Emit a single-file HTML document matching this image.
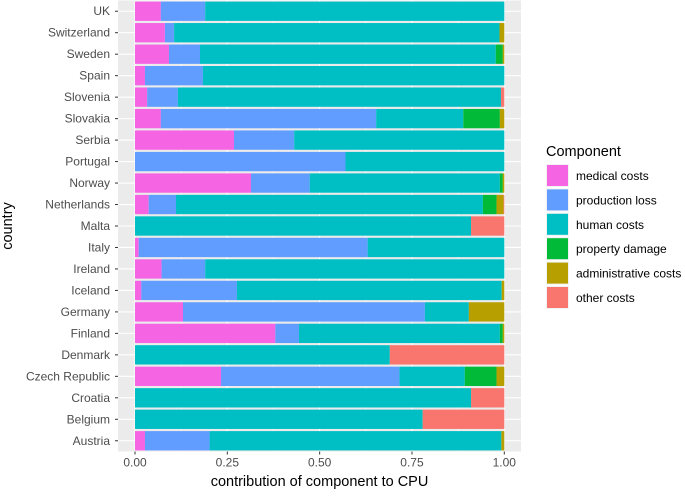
<!DOCTYPE html>
<html><head><meta charset="utf-8"><style>
body{margin:0;background:#fff;font-family:"Liberation Sans",sans-serif}
</style></head><body>
<svg id="c" width="685" height="491" xmlns="http://www.w3.org/2000/svg"></svg>
<script>
const countries=["UK","Switzerland","Sweden","Spain","Slovenia","Slovakia","Serbia","Portugal","Norway","Netherlands","Malta","Italy","Ireland","Iceland","Germany","Finland","Denmark","Czech Republic","Croatia","Belgium","Austria"];
const components=["medical costs","production loss","human costs","property damage","administrative costs","other costs"];
const colors=["#F564E3","#619CFF","#00BFC4","#00BA38","#B79F00","#F8766D"];
const medical=[0.070,0.081,0.092,0.027,0.033,0.070,0.268,0,0.314,0.037,0,0.010,0.072,0.017,0.130,0.380,0,0.233,0,0,0.027];
const production=[0.120,0.025,0.084,0.157,0.083,0.583,0.163,0.570,0.159,0.074,0,0.620,0.118,0.259,0.655,0.064,0,0.483,0,0,0.175];
const human=[0.810,0.881,0.801,0.816,0.875,0.236,0.569,0.430,0.515,0.831,0.910,0.370,0.810,0.717,0.119,0.544,0.690,0.177,0.910,0.779,0.790];
const property=[0,0,0.019,0,0,0.099,0,0,0.008,0.037,0,0,0,0,0,0.008,0,0.086,0,0,0];
const admin=[0,0.013,0.004,0,0,0.012,0,0,0.004,0.019,0,0,0,0.007,0.096,0.004,0,0.021,0,0,0.008];
const other=[0,0,0,0,0.009,0,0,0,0,0.002,0.090,0,0,0,0,0,0.310,0,0.090,0.221,0];
const xTicks=[0,0.25,0.5,0.75,1];
const xTickLabels=["0.00","0.25","0.50","0.75","1.00"];
const series=[medical,production,human,property,admin,other];

const NS="http://www.w3.org/2000/svg";
const svg=document.getElementById("c");
function mk(t,a,p){const e=document.createElementNS(NS,t);for(const k in a)e.setAttribute(k,a[k]);(p||svg).appendChild(e);return e;}
const PL=118,PR=521,PT=0.5,PB=451.5;
const x0=135,x1=504.3;
const xs=v=>x0+v*(x1-x0);
const step=(PB-PT)/countries.length;
const ys=i=>PT+step*(i+0.5);

const panel=mk("rect",{x:PL,y:PT,width:PR-PL,height:PB-PT,fill:"#EBEBEB"});


for(let i=0;i<4;i++){const v=(xTicks[i]+xTicks[i+1])/2;mk("line",{x1:xs(v),x2:xs(v),y1:PT,y2:PB,stroke:"#fff","stroke-width":0.5});}
xTicks.forEach(v=>mk("line",{x1:xs(v),x2:xs(v),y1:PT,y2:PB,stroke:"#fff","stroke-width":1.1}));
countries.forEach((c,i)=>mk("line",{x1:PL,x2:PR,y1:ys(i),y2:ys(i),stroke:"#fff","stroke-width":1.1}));

const bh=step*0.9;
countries.forEach((c,i)=>{
  let cum=0;
  series.forEach((s,k)=>{
    const v=s[i];
    if(v>0){
      const r=mk("rect",{x:xs(cum),y:ys(i)-bh/2,width:xs(cum+v)-xs(cum),height:bh,fill:colors[k]});
      
      
    }
    cum+=v;
  });
  const t=mk("text",{x:PL-8,y:ys(i)+4,"text-anchor":"end","font-size":"12","fill":"#4D4D4D"});
  t.textContent=c;
  
  
  mk("line",{x1:PL-3,x2:PL,y1:ys(i),y2:ys(i),stroke:"#333","stroke-width":1});
});
xTicks.forEach((v,i)=>{
  mk("line",{x1:xs(v),x2:xs(v),y1:PB,y2:PB+3,stroke:"#333","stroke-width":1});
  const t=mk("text",{x:xs(v),y:PB+15,"text-anchor":"middle","font-size":"12","fill":"#4D4D4D"});
  t.textContent=xTickLabels[i];
  
  
});
const xt=mk("text",{x:(PL+PR)/2,y:486,"text-anchor":"middle","font-size":"14.5","fill":"#000"});
xt.textContent="contribution of component to CPU";


const yt=mk("text",{x:12,y:(PT+PB)/2,"text-anchor":"middle","font-size":"14.5","fill":"#000",transform:"rotate(-90 12 "+((PT+PB)/2)+")"});
yt.textContent="country";



const lg=mk("g",{});


const lt=mk("text",{x:546,y:156,"font-size":"14.5","fill":"#000"},lg);
lt.textContent="Component";


components.forEach((c,k)=>{
  const y=164+k*24.4;
  const g=mk("g",{},lg);
  
  
  mk("rect",{x:546,y:y,width:23,height:23,fill:"#F2F2F2"},g);
  mk("rect",{x:547,y:y+1,width:21,height:21,fill:colors[k]},g);
  const t=mk("text",{x:576,y:y+16,"font-size":"12","fill":"#000"},g);
  t.textContent=c;
});
</script>
</body></html>
